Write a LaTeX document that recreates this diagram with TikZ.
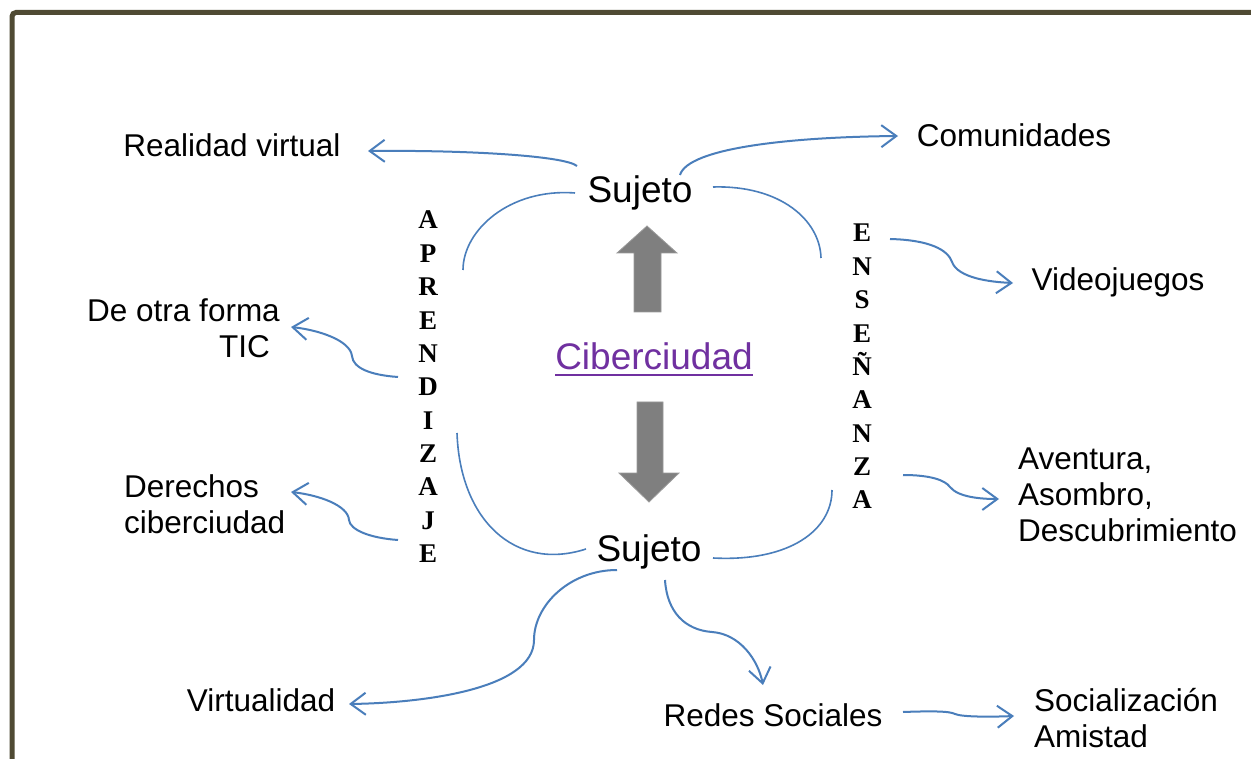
\documentclass[tikz,border=0pt]{standalone}
\usepackage{fontspec}
\setmainfont{Liberation Sans}
\newfontfamily\serifword{Liberation Serif}
\usetikzlibrary{arrows.meta,calc}
\definecolor{connblue}{HTML}{4A7EBB}
\definecolor{framecol}{HTML}{4F4A33}
\definecolor{bigarrow}{HTML}{7F7F7F}
\definecolor{bigarrowedge}{HTML}{9A9A9A}
\definecolor{linkpurple}{HTML}{7030A0}
\begin{document}
\begin{tikzpicture}[x=1pt,y=-1pt,
  lbl/.style={inner sep=0pt, font=\fontsize{31.5}{36}\selectfont},
  subj/.style={inner sep=0pt, font=\fontsize{37}{42}\selectfont},
  vword/.style={inner sep=0pt, font=\serifword\bfseries\fontsize{27}{33.35}\selectfont},
  link/.style={draw=connblue, line width=2pt, -{Straight Barb[length=15pt,width=22pt]}},
  loopline/.style={draw=connblue, line width=1.6pt},
  fatarrow/.style={fill=bigarrow, draw=bigarrowedge, line width=0.8pt}]

% page and frame
\useasboundingbox (0,0) rectangle (1251,759);
\fill[white] (0,0) rectangle (1251,759);
\draw[framecol, line width=5pt, rounded corners=4pt] (12,775) -- (12,12.5) -- (1270,12.5);

% central subjects and city
\node[subj, anchor=base] (sujT) at (640,203) {Sujeto};
\node[subj, anchor=base] (sujB) at (649,561) {Sujeto};
\node[subj, anchor=base, text=linkpurple] (ciber) at (654,370) {Ciberciudad};
\draw[linkpurple, line width=2.5pt] ($(ciber.base west)+(0,5)$) -- ($(ciber.base east)+(0,5)$);

% thick grey arrows
\fill[fatarrow] (634,312) -- (634,253) -- (617,253) -- (647,226) -- (677,253) -- (661,253) -- (661,312) -- cycle;
\fill[fatarrow] (637,402) -- (663,402) -- (663,473) -- (679,473) -- (649,502) -- (619,473) -- (637,473) -- cycle;

% vertical words
\node[vword, anchor=base] (aprend) at (428,229)
  {\begin{tabular}[t]{@{}c@{}}A\\P\\R\\E\\N\\D\\I\\Z\\A\\J\\E\end{tabular}};
\node[vword, anchor=base] (ensen) at (862,242)
  {\begin{tabular}[t]{@{}c@{}}E\\N\\S\\E\\Ñ\\A\\N\\Z\\A\end{tabular}};

% outer labels
\node[lbl, anchor=base] (realidad) at (232,157) {Realidad virtual};
\node[lbl, anchor=base] (comun) at (1014,147) {Comunidades};
\node[lbl, anchor=base] (video) at (1118,291) {Videojuegos};
\node[lbl, anchor=base east] (otra) at (280,322)
  {\begin{tabular}[t]{@{}r@{}}De otra forma\\TIC\hspace*{10pt}\end{tabular}};
\node[lbl, anchor=base west] (derechos) at (124,497)
  {\begin{tabular}[t]{@{}l@{}}Derechos\\ciberciudad\end{tabular}};
\node[lbl, anchor=base west] (aventura) at (1018,469)
  {\begin{tabular}[t]{@{}l@{}}Aventura,\\Asombro,\\Descubrimiento\end{tabular}};
\node[lbl, anchor=base] (virtual) at (261,711) {Virtualidad};
\node[lbl, anchor=base] (redes) at (773,726) {Redes Sociales};
\node[lbl, anchor=base west] (social) at (1034,711)
  {\begin{tabular}[t]{@{}l@{}}Socialización\\Amistad\end{tabular}};

% connector ends
\coordinate (rvS) at (577,166);  \coordinate (rvE) at (368,151);
\coordinate (coS) at (680,175);  \coordinate (coE) at (898,136);
\coordinate (vjS) at (890,239);  \coordinate (vjE) at (1013,283);
\coordinate (avS) at (903,475);  \coordinate (avE) at (999,499);
\coordinate (dfS) at (398,377);  \coordinate (dfE) at (291,327);
\coordinate (drS) at (398,540);  \coordinate (drE) at (291,492);
\coordinate (vtS) at (617,570);  \coordinate (vtE) at (349,704);
\coordinate (rsS) at (665,580);  \coordinate (rsE) at (763,685);
\coordinate (soS) at (903,712);  \coordinate (soE) at (1014,716);

% arrows out of the subjects and words
\draw[link] (rvS) .. controls (565,156) and (470,150) .. (rvE);
\draw[link] (coS) .. controls (688,148) and (790,137) .. (coE);
\draw[link] (vjS) .. controls (930,240) and (948,250) .. (952,262)
                  .. controls (958,278) and (990,282) .. (vjE);
\draw[link] (avS) .. controls (930,475) and (945,480) .. (950,487)
                  .. controls (958,497) and (980,499) .. (avE);
\draw[link] (dfS) .. controls (370,375) and (353,368) .. (352,356)
                  .. controls (350,340) and (318,330) .. (dfE);
\draw[link] (drS) .. controls (370,538) and (350,530) .. (349,520)
                  .. controls (348,505) and (318,495) .. (drE);
\draw[link] (vtS) .. controls (570,570) and (534,605) .. (534,640)
                  .. controls (534,690) and (420,703) .. (vtE);
\draw[link] (rsS) .. controls (667,612) and (685,630) .. (712,632)
                  .. controls (740,634) and (758,660) .. (rsE);
\draw[link] (soS) .. controls (930,711) and (950,711) .. (955,714)
                  .. controls (962,717) and (990,717) .. (soE);

% loop joining the two subjects
\coordinate (tlA) at (575,193); \coordinate (tlB) at (463,270);
\coordinate (trA) at (713,187); \coordinate (trB) at (821,258);
\coordinate (blA) at (457,433); \coordinate (blB) at (586,549);
\coordinate (brA) at (713,558); \coordinate (brB) at (832,490);
\draw[loopline] (tlA) .. controls (510,188) and (463,230) .. (tlB);
\draw[loopline] (trA) .. controls (780,185) and (820,220) .. (trB);
\draw[loopline] (blA) .. controls (460,520) and (515,572) .. (blB);
\draw[loopline] (brA) .. controls (790,562) and (832,530) .. (brB);
\end{tikzpicture}
\end{document}
